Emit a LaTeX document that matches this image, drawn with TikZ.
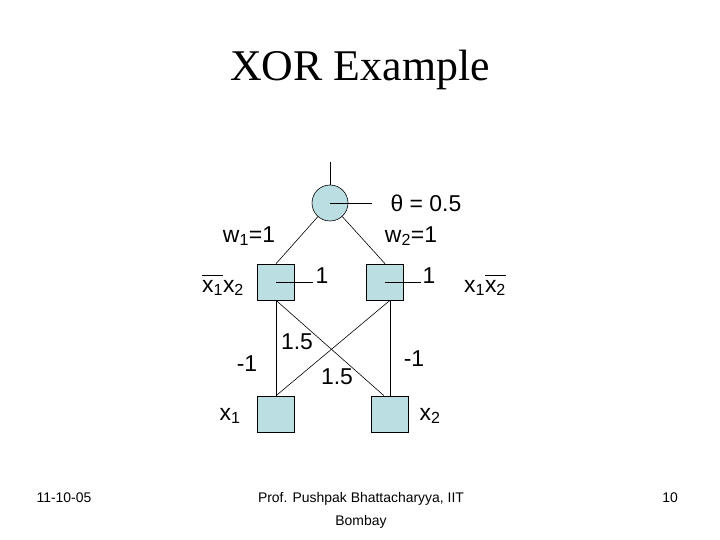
\documentclass[tikz,border=0pt]{standalone}
\usepackage{fontspec}
\setmainfont{Liberation Sans}
\newfontfamily\titlefont{Liberation Serif}
\usetikzlibrary{calc}
\definecolor{unitfill}{RGB}{187,222,226}
\newcommand{\barx}[1]{$\overline{\hbox{\vphantom{1}x\textsubscript{#1}}}$}
\tikzset{
  unit/.style={draw=black, fill=unitfill, line width=0.6pt, minimum width=37bp, minimum height=36bp, inner sep=0pt},
  neuron/.style={circle, draw=black, fill=unitfill, line width=0.6pt, minimum size=36bp, inner sep=0pt},
  wire/.style={draw=black, line width=0.6pt},
  lbl/.style={font=\fontsize{23}{27}\selectfont, inner sep=0pt},
  foot/.style={font=\fontsize{14}{17}\selectfont, inner sep=0pt, anchor=base}
}
\begin{document}
\begin{tikzpicture}[x=1bp, y=-1bp]
\useasboundingbox (0,0) rectangle (720,540);
\node[font=\titlefont\fontsize{44}{50}\selectfont, inner sep=0pt] (title) at (360,70) {XOR Example};

\node[neuron] (c) at (330,203) {};
\node[unit] (h1) at (276,282) {};
\node[unit] (h2) at (385,282) {};
\node[unit] (i1) at (276,414) {};
\node[unit] (i2) at (390,414) {};

\coordinate (out) at (330,162);
\coordinate (th) at (372,203);
\coordinate (t1) at (313,282);
\coordinate (t2) at (421,282);

\draw[wire] (c) -- (out);
\draw[wire] (c.center) -- (th);
\draw[wire] (h1.center) -- (t1);
\draw[wire] (h2.center) -- (t2);
\draw[wire] (c) -- (h1.north);
\draw[wire] (c) -- (h2.north);
\draw[wire] (h1.south) -- (i1.north);
\draw[wire] (i2.north |- h2.south) -- (i2.north);
\draw[wire] (h1.south) -- ($(i2.north)+(-6,0)$);
\draw[wire] (i2.north |- h2.south) -- (i1.north);

\node[lbl] (theta) at (426,203) {θ = 0.5};
\node[lbl] (w1) at (249,236) {w\textsubscript{1}=1};
\node[lbl] (w2) at (411,236) {w\textsubscript{2}=1};
\node[lbl] (one1) at (322,276) {1};
\node[lbl] (one2) at (429,276) {1};
\node[lbl] (h1t) at (223,285) {\barx{1}x\textsubscript{2}};
\node[lbl] (h2t) at (485,285) {x\textsubscript{1}\barx{2}};
\node[lbl] (m1) at (247,364) {-1};
\node[lbl] (m2) at (414,359) {-1};
\node[lbl] (a1) at (297,342) {1.5};
\node[lbl] (a2) at (337,377) {1.5};
\node[lbl] (x1) at (230,416) {x\textsubscript{1}};
\node[lbl] (x2) at (430,416) {x\textsubscript{2}};

\node[foot] (date) at (64,502) {11-10-05};
\node[foot] (auth) at (361,502) {Prof. Pushpak Bhattacharyya, IIT};
\node[foot] (auth2) at (361,525) {Bombay};
\node[foot] (page) at (670,502) {10};
\end{tikzpicture}
\end{document}
